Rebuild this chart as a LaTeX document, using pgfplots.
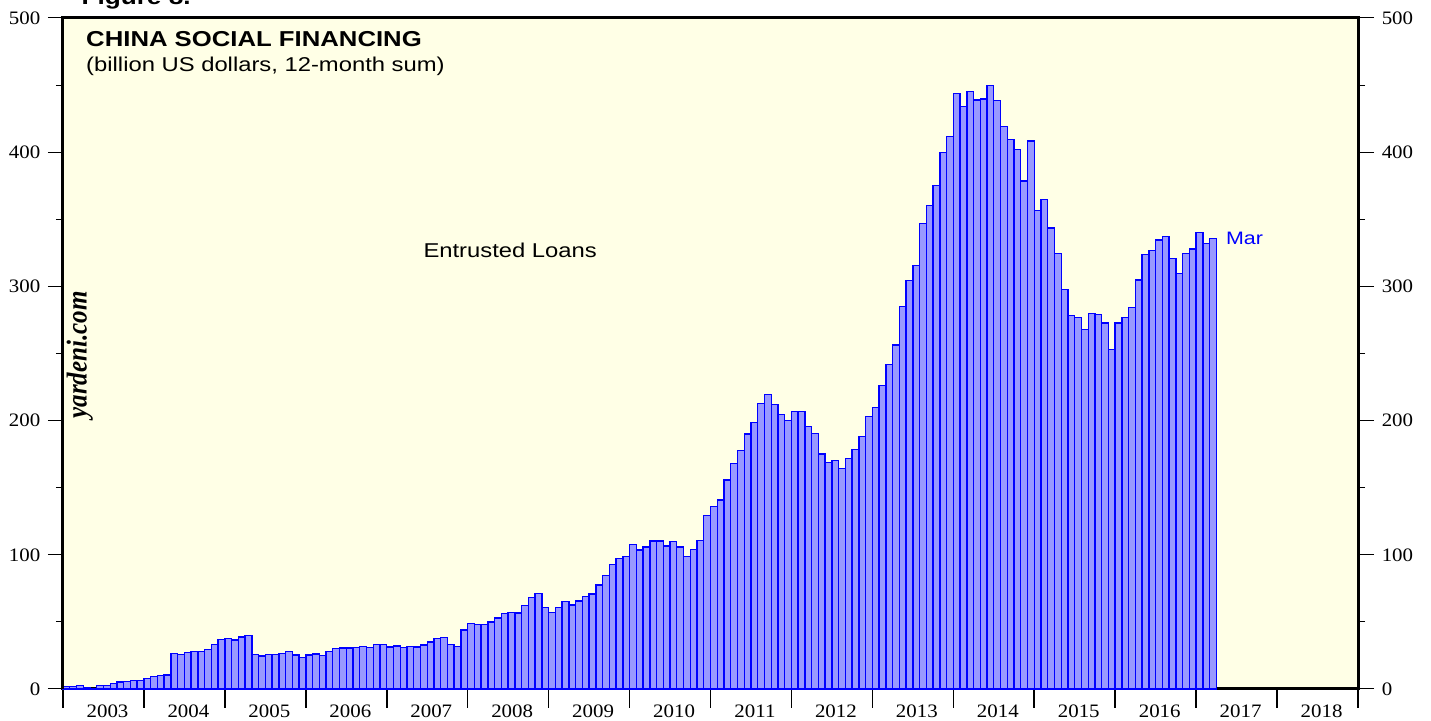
\documentclass[border=0pt]{standalone}
\usepackage{fontspec}
\setmainfont{Liberation Serif}
\newfontfamily\arial{Liberation Sans}
\usepackage{pgfplots}
\usepackage{pgfplotstable}
\pgfplotsset{compat=1.18}

\definecolor{bgyel}{RGB}{255,255,230}
\definecolor{barfill}{RGB}{153,153,255}
\definecolor{barline}{RGB}{0,0,255}

% 12-month sum of entrusted loans, monthly from Jan 2003 to Mar 2017
\pgfplotstableread{
v
1.7
1.7
2.5
1.2
0.5
2.5
2.5
4.0
5.2
5.5
6.5
6.5
7.7
9.2
9.9
10.4
26.3
25.8
27.1
27.8
27.8
29.3
33.0
36.8
37.5
36.5
38.7
40.0
25.6
24.6
25.8
25.8
26.6
27.8
25.3
23.3
25.3
26.1
25.1
28.1
30.1
30.6
30.6
31.0
31.8
31.0
33.0
33.0
31.3
32.0
30.8
31.5
31.3
32.8
35.0
37.8
38.5
33.3
31.8
44.0
48.9
48.2
47.9
49.9
52.9
56.4
57.1
56.6
62.3
68.1
71.0
60.6
56.9
60.6
65.3
62.6
65.6
69.1
70.8
77.5
84.5
92.9
97.4
98.6
107.6
103.6
105.8
110.3
110.3
106.6
109.8
105.8
98.9
103.8
110.8
129.4
135.9
140.8
155.7
167.9
177.6
190.0
198.5
212.9
219.3
212.1
204.7
200.0
206.9
206.9
195.5
190.3
175.1
168.7
170.1
164.4
171.6
178.3
188.0
202.9
209.6
226.0
241.7
256.3
284.9
304.5
315.4
346.7
360.2
375.0
399.6
411.6
443.6
433.9
445.4
438.9
439.6
449.8
438.4
419.0
409.3
401.9
378.5
408.3
356.7
364.9
343.5
324.6
297.6
278.4
277.0
267.8
279.9
279.2
272.7
253.1
272.7
276.7
284.4
304.8
323.6
326.6
334.6
337.0
320.9
309.7
324.6
327.9
340.0
331.8
335.8
}\loans

\pgfplotsset{
  base/.style={
    scale only axis,
    width=647.5pt, height=335.5pt,
    xmin=0, xmax=192, ymin=0, ymax=500,
    tick align=outside,
    axis line style={line width=1.5pt},
    /pgf/number format/assume math mode=true,
    ticklabel style={font=\fontsize{9.5}{11}\selectfont, xscale=1.1},
  },
  yside/.style={
    base,
    hide x axis,
    ytick={0,100,...,500},
    minor y tick num=1,
    minor tick length=3.5pt,
    tick style={black, line width=0.5pt},
  },
}

\begin{document}
\begin{tikzpicture}
\useasboundingbox (-31.5pt,-16pt) rectangle (684pt,344.5pt);
\begin{axis}[
  base,
  axis background/.style={fill=bgyel},
  ytick=\empty,
  xtick pos=left,
  xtick={0,12,...,192},
  xticklabels={2003,2004,2005,2006,2007,2008,2009,2010,2011,2012,2013,2014,2015,2016,2017,2018,{}},
  x tick label style={xshift=20.23pt, yshift=5pt},
  major tick length=9.5pt,
  tick style={black, line width=0.8pt},
  ybar, bar width=1, bar shift=0pt,
  clip=false,
]
\addplot[fill=barfill, draw=barline, line width=0.7pt]
  table[x expr=\coordindex+0.5, y=v] {\loans};
\node[anchor=base west, xscale=1.19, font=\arial\bfseries\fontsize{10.8}{13}\selectfont]
  at (axis cs:2.2,478.6) {CHINA SOCIAL FINANCING};
\node[anchor=base west, xscale=1.19, font=\arial\fontsize{10}{12}\selectfont]
  at (axis cs:2.2,460.5) {(billion US dollars, 12-month sum)};
\node[xscale=1.19, font=\arial\fontsize{10}{12}\selectfont]
  at (axis cs:66.3,327) {Entrusted Loans};
\node[anchor=west, xscale=1.19, text=barline, font=\arial\fontsize{9}{11}\selectfont]
  at (axis cs:171.2,336) {Mar};
\node[xscale=1.15, rotate=90, font=\bfseries\itshape\fontsize{12.5}{14}\selectfont]
  at (axis cs:2.5,249) {yardeni.com};
\node[anchor=base west, xscale=1.19, font=\arial\bfseries\fontsize{11}{13}\selectfont]
  at (axis cs:1.5,510.4) {Figure 8.};
\end{axis}
\begin{axis}[
  yside,
  axis y line*=left,
  major tick length=7.5pt,
]
\addplot[draw=none] coordinates {(0,0)};
\end{axis}
\begin{axis}[
  yside,
  axis y line*=right,
  major tick length=8pt,
]
\addplot[draw=none] coordinates {(0,0)};
\end{axis}
\end{tikzpicture}
\end{document}
